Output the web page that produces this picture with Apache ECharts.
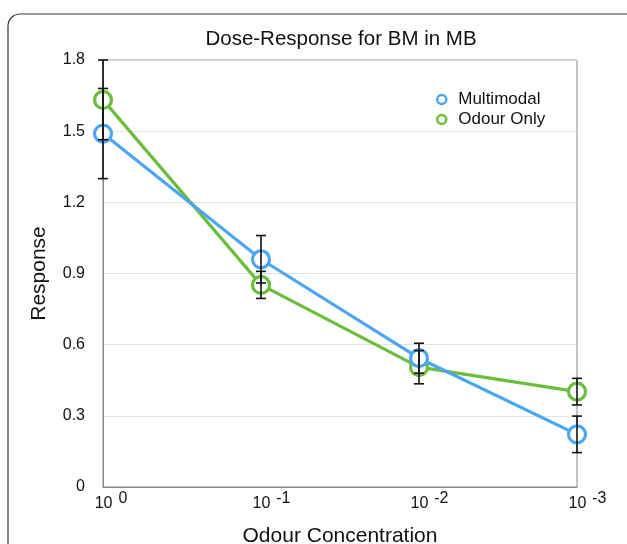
<!DOCTYPE html>
<html><head><meta charset="utf-8">
<script src="https://cdn.jsdelivr.net/npm/echarts@6/dist/echarts.min.js"></script>
<style>html,body{margin:0;padding:0;background:#fff}#c{width:627px;height:544px}</style>
</head><body><div id="c"></div>
<script>
const categories = ['0', '-1', '-2', '-3'];
const multimodal = [1.49, 0.96, 0.543, 0.222];
const multimodalErr = [0.19, 0.10, 0.063, 0.077];
const odourOnly = [1.632, 0.852, 0.505, 0.402];
const odourOnlyErr = [0.168, 0.057, 0.07, 0.056];
const yTicks = [0, 0.3, 0.6, 0.9, 1.2, 1.5, 1.8];

const BLUE = '#4aa6f3';
const GREEN = '#6bbd3c';
const FONT = '"Liberation Sans", Arial, sans-serif';

function errData(vals, errs) {
  return vals.map((v, i) => [i, v - errs[i], v + errs[i]]);
}
function errRender(params, api) {
  const x = api.value(0);
  const lo = api.coord([x, api.value(1)]);
  const hi = api.coord([x, api.value(2)]);
  const hw = 5;
  const style = { stroke: '#111', lineWidth: 1.6, fill: null };
  return {
    type: 'group',
    children: [
      { type: 'line', shape: { x1: lo[0], y1: lo[1], x2: hi[0], y2: hi[1] }, style },
      { type: 'line', shape: { x1: lo[0] - hw, y1: lo[1], x2: lo[0] + hw, y2: lo[1] }, style },
      { type: 'line', shape: { x1: hi[0] - hw, y1: hi[1], x2: hi[0] + hw, y2: hi[1] }, style }
    ]
  };
}

const chart = echarts.init(document.getElementById('c'), null, { renderer: 'canvas' });
chart.setOption({
  animation: false,
  textStyle: { fontFamily: FONT },
  graphic: [{
    type: 'rect', silent: true, z: -10,
    shape: { x: 8, y: 14, width: 660, height: 600, r: 12 },
    style: { fill: 'none', stroke: '#333', lineWidth: 1.2 }
  }],
  title: {
    text: 'Dose-Response for BM in MB',
    left: 336, top: 24, textAlign: 'center',
    textStyle: { fontFamily: FONT, fontSize: 20.5, fontWeight: 'normal', color: '#111' }
  },
  legend: {
    orient: 'vertical', left: 431, top: 86, itemGap: 3,
    itemWidth: 9, itemHeight: 9,
    textStyle: { fontFamily: FONT, fontSize: 17, color: '#111', padding: [0, 0, 0, 7] },
    data: [
      { name: 'Multimodal', icon: 'circle', itemStyle: { color: '#fff', borderColor: BLUE, borderWidth: 2.5 } },
      { name: 'Odour Only', icon: 'circle', itemStyle: { color: '#fff', borderColor: GREEN, borderWidth: 2.5 } }
    ]
  },
  grid: { left: 103, right: 50, top: 60, bottom: 57, show: true, borderColor: '#888', borderWidth: 1, outerBoundsMode: 'none', containLabel: false },
  xAxis: {
    type: 'category', data: categories, boundaryGap: false,
    name: 'Odour Concentration', nameLocation: 'middle', nameGap: 39,
    nameTextStyle: { fontFamily: FONT, fontSize: 21, color: '#111' },
    axisLine: { lineStyle: { color: '#888' } },
    axisTick: { show: false },
    splitLine: { show: false },
    axisLabel: {
      margin: 3, color: '#111', fontFamily: FONT,
      formatter: v => (v === '0' ? '{p1|}' : '{p2|}') + '{a|10}{s|' + v + '}',
      rich: {
        p1: { width: 16 }, p2: { width: 21 },
        a: { fontSize: 16, fontFamily: FONT, color: '#111', padding: [6, 0, 0, 0] },
        s: { fontSize: 16, fontFamily: FONT, color: '#111', padding: [0, 0, 5, 6] }
      }
    }
  },
  yAxis: {
    type: 'value', min: 0, max: 1.8, interval: 0.3,
    name: 'Response', nameLocation: 'middle', nameGap: 53,
    nameTextStyle: { fontFamily: FONT, fontSize: 21, color: '#111' },
    axisLine: { show: true, lineStyle: { color: '#888' } },
    axisTick: { show: false },
    splitLine: { lineStyle: { color: '#e2e2e2', width: 1 } },
    axisLabel: {
      margin: 18, fontSize: 16, color: '#111', fontFamily: FONT,
      formatter: v => { const t = yTicks.find(k => Math.abs(k - v) < 1e-9); return t === 0 ? '0' : t.toFixed(1); }
    }
  },
  series: [
    {
      name: 'Multimodal', type: 'line', data: multimodal, z: 3,
      symbol: 'circle', symbolSize: 17,
      lineStyle: { color: BLUE, width: 3.2 },
      itemStyle: { color: '#fff', borderColor: BLUE, borderWidth: 3.2 }
    },
    {
      name: 'Odour Only', type: 'line', data: odourOnly, z: 2,
      symbol: 'circle', symbolSize: 17,
      lineStyle: { color: GREEN, width: 3.2 },
      itemStyle: { color: '#fff', borderColor: GREEN, borderWidth: 3.2 }
    },
    { name: 'mmErr', type: 'custom', renderItem: errRender, data: errData(multimodal, multimodalErr), z: 10, silent: true, encode: { x: 0, y: [1, 2] } },
    { name: 'odErr', type: 'custom', renderItem: errRender, data: errData(odourOnly, odourOnlyErr), z: 10, silent: true, encode: { x: 0, y: [1, 2] } }
  ]
});
</script>
</body></html>
